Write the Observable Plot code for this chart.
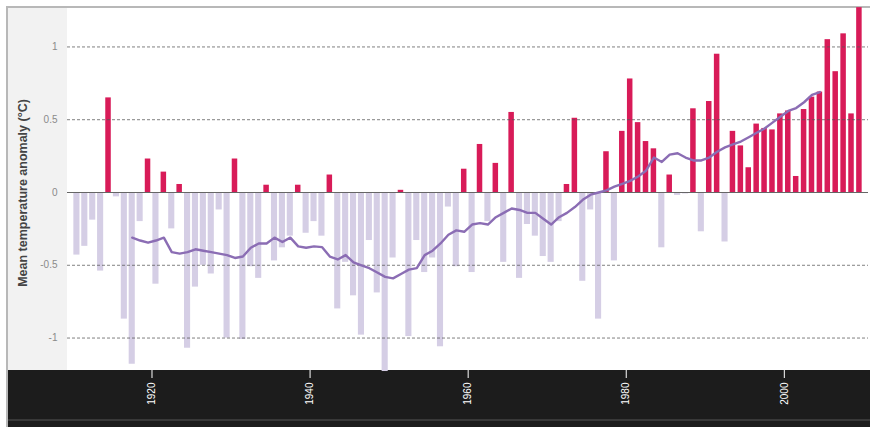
<!DOCTYPE html>
<html>
<head>
<meta charset="utf-8">
<script src="https://cdn.jsdelivr.net/npm/d3@7"></script>
<script src="https://cdn.jsdelivr.net/npm/@observablehq/plot@0.6"></script>
<style>
  body { margin: 0; background: #fff; font-family: "Liberation Sans", Arial, sans-serif; }
  #wrap { position: relative; width: 870px; height: 427px; overflow: hidden; background: #fff; }
  #panel { position: absolute; left: 7px; top: 7px; width: 60px; height: 363px; background: #f2f2f2; }
  #band { position: absolute; left: 7px; top: 370px; width: 863px; height: 57px; background: #1c1c1c; }
  #bandline { position: absolute; left: 7px; top: 419px; width: 863px; height: 2px; background: #383838; }
  #topline { position: absolute; left: 6px; top: 6px; width: 864px; height: 2px; background: #b8b8b8; }
  #leftline { position: absolute; left: 6px; top: 6px; width: 2px; height: 421px; background: #b8b8b8; }
  #ylabel { position: absolute; left: 23px; top: 193px; transform: translate(-50%, -50%) rotate(-90deg);
            white-space: nowrap; font-size: 12.5px; font-weight: bold; color: #444; }
  #chart { position: absolute; left: 0; top: 0; }
</style>
</head>
<body>
<div id="wrap">
  <div id="panel"></div>
  <div id="band"></div>
  <div id="bandline"></div>
  <div id="topline"></div>
  <div id="leftline"></div>
  <div id="chart"></div>
  <div id="ylabel">Mean temperature anomaly (°C)</div>
</div>
<script>
// Years of the annual bars (1910–2009)
const years = d3.range(1910, 2010);
// Annual mean temperature anomaly (°C), one per year
const anomaly = [
  -0.43, -0.37, -0.19, -0.54, 0.65, -0.03, -0.87, -1.18, -0.20, 0.23,   // 1910s
  -0.63, 0.14, -0.25, 0.055, -1.07, -0.65, -0.50, -0.56, -0.12, -1.00,  // 1920s
  0.23, -1.01, -0.51, -0.59, 0.05, -0.47, -0.38, -0.30, 0.05, -0.28,    // 1930s
  -0.20, -0.30, 0.12, -0.80, -0.48, -0.71, -0.98, -0.33, -0.69, -1.23,  // 1940s
  -0.45, 0.015, -0.99, -0.33, -0.55, -0.45, -1.06, -0.10, -0.51, 0.16,  // 1950s
  -0.55, 0.33, -0.20, 0.20, -0.48, 0.55, -0.59, -0.22, -0.30, -0.44,    // 1960s
  -0.48, -0.20, 0.055, 0.51, -0.61, -0.12, -0.87, 0.28, -0.47, 0.42,    // 1970s
  0.78, 0.48, 0.35, 0.30, -0.38, 0.12, -0.02, -0.01, 0.575, -0.27,      // 1980s
  0.625, 0.95, -0.34, 0.42, 0.32, 0.17, 0.47, 0.44, 0.43, 0.54,         // 1990s
  0.56, 0.11, 0.57, 0.655, 0.69, 1.05, 0.83, 1.09, 0.54, 1.27           // 2000s
];
// Smoothed (moving average) line, 1917–2004
const trendYears = d3.range(1917, 2005);
const trendValues = [
  -0.31, -0.33, -0.345,                                                  // 1917-1919
  -0.33, -0.31, -0.41, -0.42, -0.41, -0.39, -0.40, -0.41, -0.42, -0.43, // 1920s
  -0.45, -0.44, -0.38, -0.35, -0.35, -0.31, -0.34, -0.31, -0.37, -0.38, // 1930s
  -0.37, -0.375, -0.44, -0.46, -0.43, -0.48, -0.50, -0.52, -0.55, -0.58,// 1940s
  -0.59, -0.56, -0.53, -0.52, -0.43, -0.40, -0.35, -0.29, -0.26, -0.27, // 1950s
  -0.22, -0.21, -0.22, -0.17, -0.14, -0.11, -0.12, -0.14, -0.14, -0.18, // 1960s
  -0.22, -0.17, -0.14, -0.10, -0.05, -0.015, 0.0, 0.015, 0.04, 0.06,    // 1970s
  0.08, 0.11, 0.15, 0.24, 0.21, 0.26, 0.27, 0.24, 0.22, 0.22,           // 1980s
  0.24, 0.28, 0.31, 0.33, 0.35, 0.38, 0.41, 0.44, 0.48, 0.52,           // 1990s
  0.56, 0.58, 0.62, 0.67, 0.69                                          // 2000-2004
];
const xTicks = [1920, 1940, 1960, 1980, 2000];
const yTicks = [-1, -0.5, 0, 0.5, 1];
const gridTicks = [-1, -0.5, 0.5, 1];

const warm = "#d81b58";
const cool = "#d5cee5";
const trendColor = "#8b6db4";

const data = years.map((y, i) => ({year: y, value: anomaly[i]}));
const trend = trendYears.map((y, i) => ({year: y, value: trendValues[i]}));

const chart = Plot.plot({
  width: 870,
  height: 427,
  marginTop: 7,
  marginBottom: 57,
  marginLeft: 67,
  marginRight: 2,
  style: {background: "transparent", fontFamily: "'Liberation Sans', Arial, sans-serif", overflow: "visible"},
  x: {domain: [1909.31, 2010.65]},
  y: {domain: [-1.223, 1.271]},
  marks: [
    Plot.rect(data.filter(d => d.value < 0), {
      x1: "year", x2: d => d.year + 1, y1: d => 0, y2: "value",
      fill: cool, insetLeft: 0.9, insetRight: 0.9
    }),
    Plot.rect(data.filter(d => d.value >= 0), {
      x1: "year", x2: d => d.year + 1, y1: d => 0, y2: "value",
      fill: warm, insetLeft: 1.2, insetRight: 1.2
    }),
    Plot.ruleY(gridTicks, {stroke: "#555", strokeOpacity: 0.75, strokeWidth: 1, strokeDasharray: "3,2"}),
    Plot.ruleY([0], {stroke: "#666", strokeWidth: 1.2}),
    Plot.line(trend, {x: d => d.year + 0.5, y: "value", stroke: trendColor, strokeWidth: 2.4, strokeLinejoin: "round"}),
    Plot.axisY(yTicks, {
      tickSize: 0, tickPadding: 10, tickFormat: d => String(d),
      color: "#8a8a8a", fontSize: 10, label: null
    }),
    Plot.axisX(xTicks, {
      tickSize: 8, tickPadding: 4, tickRotate: -90, tickFormat: d => String(d),
      color: "white", fontSize: 10, label: null
    })
  ]
});
document.getElementById("chart").appendChild(chart);
</script>
</body>
</html>
